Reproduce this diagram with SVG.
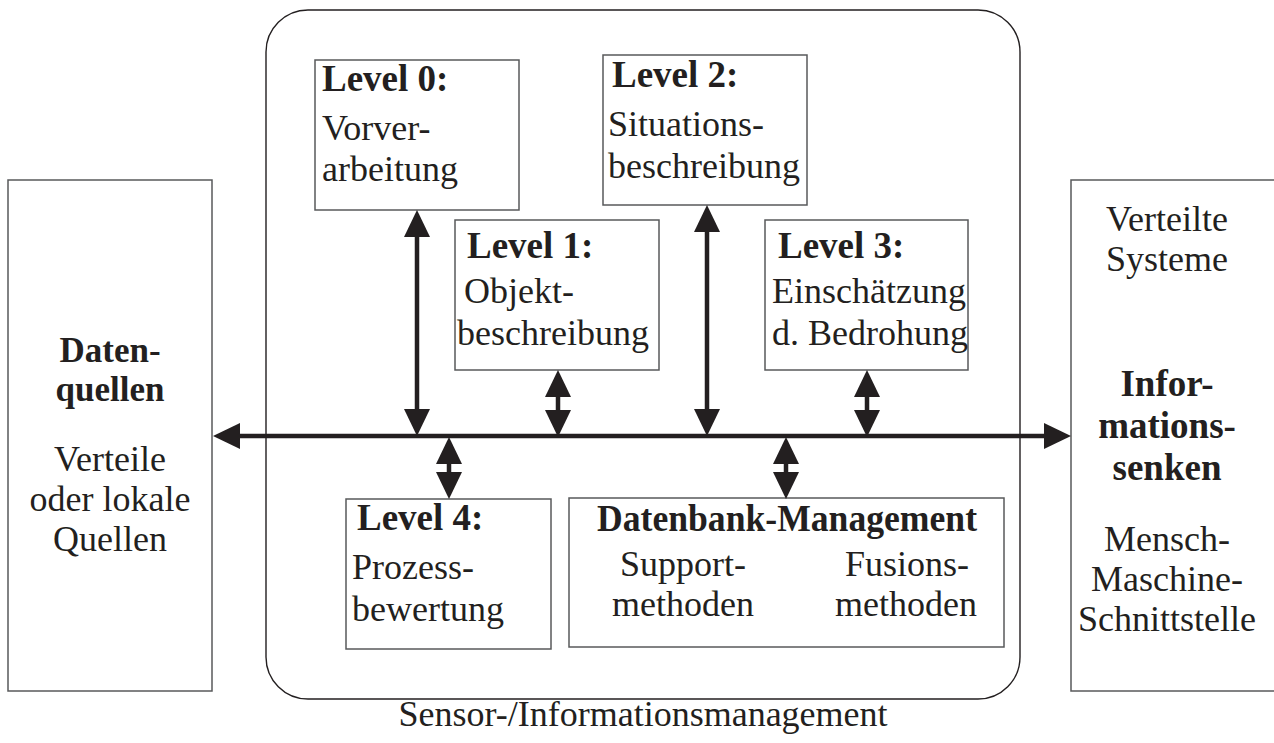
<svg xmlns="http://www.w3.org/2000/svg" width="1274" height="743" viewBox="0 0 1274 743">
  <style>
    text { font-family: "Liberation Serif", "Times New Roman", serif; fill: #231f20; }
    .r { font-size: 36px; }
    .b { font-size: 37px; font-weight: bold; }
    .lv { font-size: 37px; font-weight: bold; }
    .mid { text-anchor: middle; }
    .box { fill: #ffffff; stroke: #58595b; stroke-width: 1.5; }
    .frame { fill: none; stroke: #231f20; stroke-width: 1.4; }
    .bus { stroke: #231f20; stroke-width: 4.5; fill: none; }
  </style>
  <defs>
    <marker id="head" viewBox="0 0 27 26" refX="0" refY="13" markerWidth="27" markerHeight="26" markerUnits="userSpaceOnUse" orient="auto-start-reverse">
      <path d="M0,0 L27,13 L0,26 Z" fill="#231f20"/>
    </marker>
  </defs>

  <rect width="1274" height="743" fill="#ffffff"/>

  <!-- management frame -->
  <g id="management">
    <rect class="frame" x="266" y="10" width="754" height="689" rx="42" ry="42"/>
    <text class="r mid" x="643" y="726">Sensor-/Informationsmanagement</text>
  </g>

  <!-- sources -->
  <g id="datenquellen">
    <rect class="box" x="8" y="180" width="204" height="511"/>
    <text class="b mid" x="110" y="362" style="font-size:35px">Daten-</text>
    <text class="b mid" x="110" y="401" style="font-size:35px">quellen</text>
    <text class="r mid" x="110" y="471">Verteile</text>
    <text class="r mid" x="110" y="511">oder lokale</text>
    <text class="r mid" x="110" y="551">Quellen</text>
  </g>

  <!-- sinks -->
  <g id="informationssenken">
    <rect class="box" x="1071" y="180" width="212" height="511"/>
    <text class="r mid" x="1167" y="231">Verteilte</text>
    <text class="r mid" x="1167" y="271">Systeme</text>
    <text class="b mid" x="1167" y="396">Infor-</text>
    <text class="b mid" x="1167" y="438">mations-</text>
    <text class="b mid" x="1167" y="480">senken</text>
    <text class="r mid" x="1167" y="551">Mensch-</text>
    <text class="r mid" x="1167" y="591">Maschine-</text>
    <text class="r mid" x="1167" y="631">Schnittstelle</text>
  </g>

  <g id="level0">
    <rect class="box" x="315" y="60" width="204" height="150"/>
    <text class="lv" x="322" y="91">Level 0:</text>
    <text class="r" x="322" y="140">Vorver-</text>
    <text class="r" x="322" y="181">arbeitung</text>
  </g>

  <g id="level2">
    <rect class="box" x="603" y="55" width="204" height="150"/>
    <text class="lv" x="612" y="87">Level 2:</text>
    <text class="r" x="608" y="136">Situations-</text>
    <text class="r" x="608" y="178">beschreibung</text>
  </g>

  <g id="level1">
    <rect class="box" x="455" y="220" width="204" height="150"/>
    <text class="lv" x="467" y="258">Level 1:</text>
    <text class="r" x="464" y="303">Objekt-</text>
    <text class="r" x="457" y="345">beschreibung</text>
  </g>

  <g id="level3">
    <rect class="box" x="765" y="220" width="203" height="150"/>
    <text class="lv" x="778" y="258">Level 3:</text>
    <text class="r" x="772" y="303">Einschätzung</text>
    <text class="r" x="772" y="345">d. Bedrohung</text>
  </g>

  <g id="level4">
    <rect class="box" x="346" y="499" width="205" height="150"/>
    <text class="lv" x="357" y="530">Level 4:</text>
    <text class="r" x="352" y="579">Prozess-</text>
    <text class="r" x="352" y="621">bewertung</text>
  </g>

  <g id="datenbank">
    <rect class="box" x="569" y="498" width="435" height="149"/>
    <text class="lv mid" x="787" y="531" textLength="380" lengthAdjust="spacingAndGlyphs">Datenbank-Management</text>
    <text class="r mid" x="683" y="576">Support-</text>
    <text class="r mid" x="683" y="616">methoden</text>
    <text class="r mid" x="907" y="576">Fusions-</text>
    <text class="r mid" x="906" y="616">methoden</text>
  </g>

  <!-- bus and links -->
  <g id="connectors" class="bus">
    <line x1="240" y1="436" x2="1044" y2="436" marker-start="url(#head)" marker-end="url(#head)"/>
    <line x1="417" y1="237" x2="417" y2="409" marker-start="url(#head)" marker-end="url(#head)"/>
    <line x1="707" y1="232" x2="707" y2="409" marker-start="url(#head)" marker-end="url(#head)"/>
    <line x1="558" y1="397" x2="558" y2="410" marker-start="url(#head)" marker-end="url(#head)"/>
    <line x1="867" y1="397" x2="867" y2="410" marker-start="url(#head)" marker-end="url(#head)"/>
    <line x1="449" y1="464" x2="449" y2="472" marker-start="url(#head)" marker-end="url(#head)"/>
    <line x1="786" y1="464" x2="786" y2="472" marker-start="url(#head)" marker-end="url(#head)"/>
  </g>
</svg>
